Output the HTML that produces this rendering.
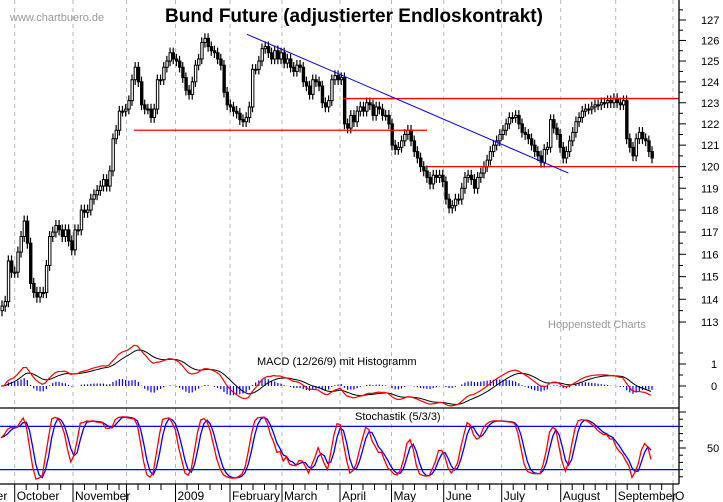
<!DOCTYPE html>
<html><head><meta charset="utf-8"><style>
body{margin:0;background:#fff;}
svg{display:block;font-family:"Liberation Sans",Arial,sans-serif;}
</style></head><body>
<svg id="chart" width="723" height="502" viewBox="0 0 723 502" xmlns="http://www.w3.org/2000/svg">
<rect x="0" y="0" width="723" height="502" fill="#fff"/>
<g id="grid"></g>
<text x="10" y="21" font-size="11" fill="#999">www.chartbuero.de</text>
<text x="165" y="22" font-size="19" font-weight="bold" fill="#000">Bund Future (adjustierter Endloskontrakt)</text>
<text x="548" y="328" font-size="11" fill="#999">Hoppenstedt Charts</text>
<g id="price"></g>
<g id="lines"></g>
<g id="macd"></g>
<text x="257" y="365" font-size="11" fill="#000">MACD (12/26/9) mit Histogramm</text>
<line x1="0" y1="408" x2="679" y2="408" stroke="#000" stroke-width="1.2"/>
<g id="stoch"></g>
<text x="355" y="420" font-size="11" fill="#000">Stochastik (5/3/3)</text>
<g id="axes"></g>
</svg>
<script>
const closes=[113.7,113.9,115.7,115.2,115.2,116.1,116.8,117.5,116.5,114.7,114.3,114.1,114.3,114.3,115.5,116.8,117.0,117.3,117.1,116.8,117.1,116.6,116.2,117.1,117.1,118.0,117.9,118.0,118.5,118.7,118.9,119.1,119.4,119.1,119.8,121.3,121.7,122.6,122.6,122.7,123.1,124.1,124.7,124.0,122.9,122.7,122.7,122.3,122.7,124.1,124.1,124.7,125.0,125.4,125.1,125.0,124.7,124.2,123.6,123.4,124.0,124.8,125.1,125.9,126.1,125.7,125.5,125.4,125.1,124.8,123.5,122.9,122.8,122.6,122.5,122.2,122.1,122.3,122.8,124.6,124.6,125.0,125.6,125.7,125.4,125.1,125.5,125.1,125.4,124.9,125.1,124.7,124.5,124.8,124.7,124.0,123.8,123.4,124.1,124.0,123.8,123.0,122.8,123.1,124.1,124.3,124.1,124.2,122.0,121.8,122.4,122.1,122.6,122.8,122.6,123.0,122.9,122.4,122.8,122.7,122.4,122.4,122.0,121.0,120.8,120.9,121.2,121.5,121.7,121.2,120.7,120.4,120.0,119.8,119.5,119.2,119.6,119.5,119.6,119.3,118.5,118.1,118.2,118.5,118.5,119.0,119.5,119.6,119.4,119.0,119.5,119.7,120.0,120.3,120.7,121.0,121.2,121.5,121.7,122.0,122.3,122.3,122.4,122.0,121.6,121.5,121.3,121.0,120.7,120.5,120.2,120.8,120.9,122.2,121.8,121.5,120.9,120.4,120.7,121.2,121.6,122.1,122.3,122.6,122.7,122.7,122.8,122.9,122.9,123.0,123.0,123.1,123.0,123.2,123.0,122.9,123.1,121.3,120.9,120.5,121.3,121.6,121.3,121.2,120.7,120.4];
const priceTicks=[113,114,115,116,117,118,119,120,121,122,123,124,125,126,127];
const monthLabels=["ber","October","November","","2009","February","March","April","May","June","July","August","September","O"];
const monthStarts=[-12,14.7,73,126.5,175.5,230,282,340,391.5,443.7,501.7,560.7,615.7,673];
const resistance=[123.2,120.0,121.7];
const trendStart=[126.3,0.29], trendEnd=[119.7,0.84];
const macdTicks=[0,1];
const stochTicks=[50];
const stochBands=[80,20];

const NS="http://www.w3.org/2000/svg";
function mk(t,a,p){const e=document.createElementNS(NS,t);for(const k in a)e.setAttribute(k,a[k]);p.appendChild(e);return e;}
const X0=1,X1=651,AX=679;
const xs=i=>X0+i*(X1-X0)/(closes.length-1);
const xf=f=>f*AX;
const py=p=>20+(Math.log(127)-Math.log(p))*2586;
const my=v=>386-v*22;
const sy=v=>484-v*0.72;

const grid=document.getElementById('grid');
monthStarts.slice(1).forEach((x,i)=>{
 const l=mk('line',{x1:x,y1:0,x2:x,y2:484,stroke:'#bbb','stroke-dasharray':'4,4'},grid);
 
 
});

const pg=document.getElementById('price');
const highs=[],lows=[];
closes.forEach((c,i)=>{
 const o=i?closes[i-1]:c-0.2;
 const h=Math.max(o,c)+0.25,l=Math.min(o,c)-0.25;highs.push(h);lows.push(l);
 const x=xs(i);
 const w=mk('line',{x1:x+1,y1:py(h),x2:x+1,y2:py(l),stroke:'#000','stroke-width':1.2},pg);
 
 
 const top=py(Math.max(o,c)),bot=py(Math.min(o,c));
 const r=mk('rect',{x:x,y:top,width:2.4,height:Math.max(1,bot-top),fill:c>=o?'#fff':'#000',stroke:'#000','stroke-width':1},pg);
 
 
});

const lg=document.getElementById('lines');
const segs=[[resistance[0],343,AX],[resistance[1],427,AX],[resistance[2],134,427]];
segs.forEach(s=>{
 const l=mk('line',{x1:s[1],y1:py(s[0]),x2:s[2],y2:py(s[0]),stroke:'#f00','stroke-width':1.3},lg);
 
 
});
const tl=mk('line',{x1:xf(trendStart[1])+50,y1:py(trendStart[0]),x2:xf(trendEnd[1])-2,y2:py(trendEnd[0]),stroke:'#00f','stroke-width':1},lg);



function ema(a,n){const k=2/(n+1);const r=[];a.forEach((v,i)=>r.push(i?v*k+r[i-1]*(1-k):v));return r;}
const e12=ema(closes,9),e26=ema(closes,20);
const macd=e12.map((v,i)=>v-e26[i]);
const sig=ema(macd,7);
const mg=document.getElementById('macd');
macd.forEach((v,i)=>{
 const h=(v-sig[i]);
 const b=mk('line',{x1:xs(i)+1,y1:my(0),x2:xs(i)+1,y2:my(h),stroke:'#00f','stroke-width':1.2},mg);
 
 
});
const ml=mk('polyline',{points:sig.map((v,i)=>xs(i)+','+my(v)).join(' '),fill:'none',stroke:'#000','stroke-width':1},mg);


const mr=mk('polyline',{points:macd.map((v,i)=>xs(i)+','+my(v)).join(' '),fill:'none',stroke:'#f00','stroke-width':1.2},mg);



const sg=document.getElementById('stoch');
stochBands.forEach(v=>{
 const l=mk('line',{x1:0,y1:sy(v),x2:AX,y2:sy(v),stroke:'#00f','stroke-width':1.3},sg);
 
 
});
const rawK=closes.map((c,i)=>{const s=Math.max(0,i-4);const hh=Math.max(...highs.slice(s,i+1)),ll=Math.min(...lows.slice(s,i+1));return hh>ll?100*(c-ll)/(hh-ll):50;});
const sma=(a,n)=>a.map((v,i)=>{const s=a.slice(Math.max(0,i-n+1),i+1);return s.reduce((x,y)=>x+y,0)/s.length;});
const kS=sma(rawK,3),dS=sma(kS,3);
const sd=mk('polyline',{points:dS.map((v,i)=>xs(i)+','+sy(v)).join(' '),fill:'none',stroke:'#00f','stroke-width':1.3},sg);


const sk=mk('polyline',{points:kS.map((v,i)=>xs(i)+','+sy(v)).join(' '),fill:'none',stroke:'#f00','stroke-width':1.3},sg);



const ag=document.getElementById('axes');
mk('line',{x1:AX,y1:0,x2:AX,y2:484,stroke:'#000','stroke-width':1.3},ag);
mk('line',{x1:0,y1:484,x2:AX,y2:484,stroke:'#000','stroke-width':1.3},ag);
priceTicks.forEach(p=>{
 mk('line',{x1:AX,y1:py(p),x2:AX+7,y2:py(p),stroke:'#000'},ag);
 mk('line',{x1:AX,y1:py(p+0.5),x2:AX+4,y2:py(p+0.5),stroke:'#000'},ag);
 const t=mk('text',{x:701,y:py(p)+4,'font-size':11,fill:'#000'},ag);t.textContent=p;
 
 
});
[-0.5,0,0.5,1,1.5].forEach(v=>mk('line',{x1:AX,y1:my(v),x2:AX+(Number.isInteger(v)?7:4),y2:my(v),stroke:'#000'},ag));
macdTicks.forEach(v=>{const t=mk('text',{x:711,y:my(v)+4,'font-size':11},ag);t.textContent=v;
 
 });
[10,20,30,40,50,60,70,80,90,100].forEach(v=>mk('line',{x1:AX,y1:sy(v),x2:AX+(v%50?4:7),y2:sy(v),stroke:'#000'},ag));
stochTicks.forEach(v=>{const t=mk('text',{x:707,y:sy(v)+4,'font-size':11},ag);t.textContent=v;
 
 });
monthStarts.forEach((x,i)=>{
 if(x>0) mk('line',{x1:x,y1:484,x2:x,y2:502,stroke:'#000'},ag);
 const t=mk('text',{x:x+2,y:500,'font-size':12},ag);t.textContent=monthLabels[i];
 
 
 if(i<monthStarts.length-1){const nx=monthStarts[i+1];for(let w=x+11.5;w<nx-4;w+=11.5)if(w>0)mk('line',{x1:w,y1:484,x2:w,y2:490,stroke:'#000'},ag);}
});
</script>
</body></html>
